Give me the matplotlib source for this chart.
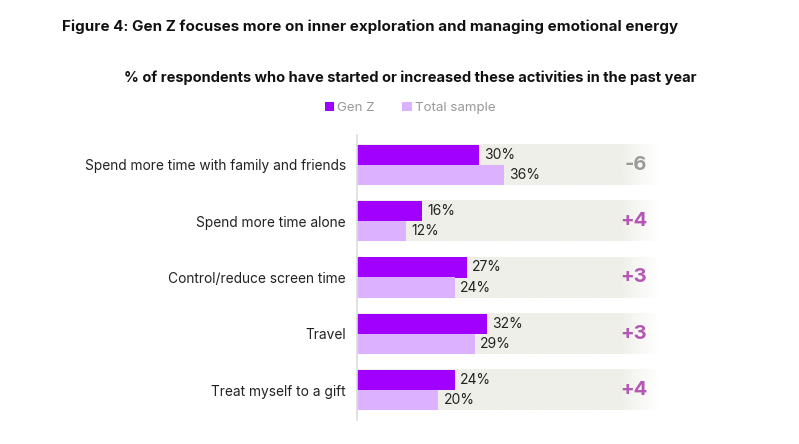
import matplotlib.pyplot as plt
import matplotlib.colors as mcolors
import numpy as np

plt.rcParams['font.family'] = ['Inter', 'DejaVu Sans']

# data
activities = ["Spend more time with family and friends", "Spend more time alone",
              "Control/reduce screen time", "Travel", "Treat myself to a gift"]
gen_z = [30, 16, 27, 32, 24]
total = [36, 12, 24, 29, 20]
diff_labels = ["-6", "+4", "+3", "+3", "+4"]

genz_color = "#A100FF"
total_color = "#DCB1FF"
band_color = "#EFEFE9"

W, H = 799, 444
fig = plt.figure(figsize=(W / 100, H / 100), dpi=100)

# axes placed in pixel terms: x 357..757, y 135..420
ax = fig.add_axes([357 / W, 1 - 420 / H, 400 / W, 285 / H])
px_per_pct = 4.07
ax.set_xlim(0, 400 / px_per_pct)
ax.set_ylim(4.533, -0.533)

bar_h = 20 / 56.25
y = np.arange(len(activities))

# background bands with a fade at the right end
solid_end, fade_end = 64.5, 74.0
n = 200
xs = np.linspace(0, fade_end, n)
alpha = np.clip((fade_end - xs) / (fade_end - solid_end), 0, 1)
rgba = np.zeros((1, n, 4))
rgba[0, :, :3] = mcolors.to_rgb(band_color)
rgba[0, :, 3] = alpha
for yi in y:
    ax.imshow(rgba, extent=(0, fade_end, yi + bar_h, yi - bar_h), aspect='auto',
              interpolation='bilinear', zorder=0)

ax.barh(y - bar_h / 2, gen_z, height=bar_h, color=genz_color, label="Gen Z", zorder=2)
ax.barh(y + bar_h / 2, total, height=bar_h, color=total_color, label="Total sample", zorder=2)

for yi, g, t, d in zip(y, gen_z, total, diff_labels):
    ax.text(g + 1.3, yi - bar_h / 2, f"{g}%", va='center', ha='left', fontsize=10, color="#222222")
    ax.text(t + 1.3, yi + bar_h / 2, f"{t}%", va='center', ha='left', fontsize=10, color="#222222")
    col = "#9A9A9A" if d.startswith("-") else "#B457B4"
    ax.text(71.3, yi, d, va='center', ha='right', fontsize=14.5, fontweight='bold', color=col)

ax.set_yticks(y)
ax.set_yticklabels(activities, fontsize=9.9, color="#222222")
ax.tick_params(axis='y', length=0, pad=8)
ax.set_xticks([])
for s in ['top', 'right', 'bottom']:
    ax.spines[s].set_visible(False)
ax.spines['left'].set_color("#DDDDDD")
ax.spines['left'].set_linewidth(1.2)

fig.text(62 / W, 1 - 27 / H, "Figure 4: Gen Z focuses more on inner exploration and managing emotional energy",
         fontsize=10.9, fontweight='bold', ha='left', va='center', color="#111111")
fig.text(410 / W, 1 - 78 / H, "% of respondents who have started or increased these activities in the past year",
         fontsize=10.5, fontweight='bold', ha='center', va='center', color="#111111")

fig.legend(loc='center', bbox_to_anchor=(410 / W, 1 - 108 / H), ncol=2, frameon=False,
           fontsize=9.6, labelcolor="#999999", handlelength=0.68, handleheight=0.68,
           handletextpad=0.25, columnspacing=2.1, borderpad=0)

fig.savefig("out.png", dpi=100)
